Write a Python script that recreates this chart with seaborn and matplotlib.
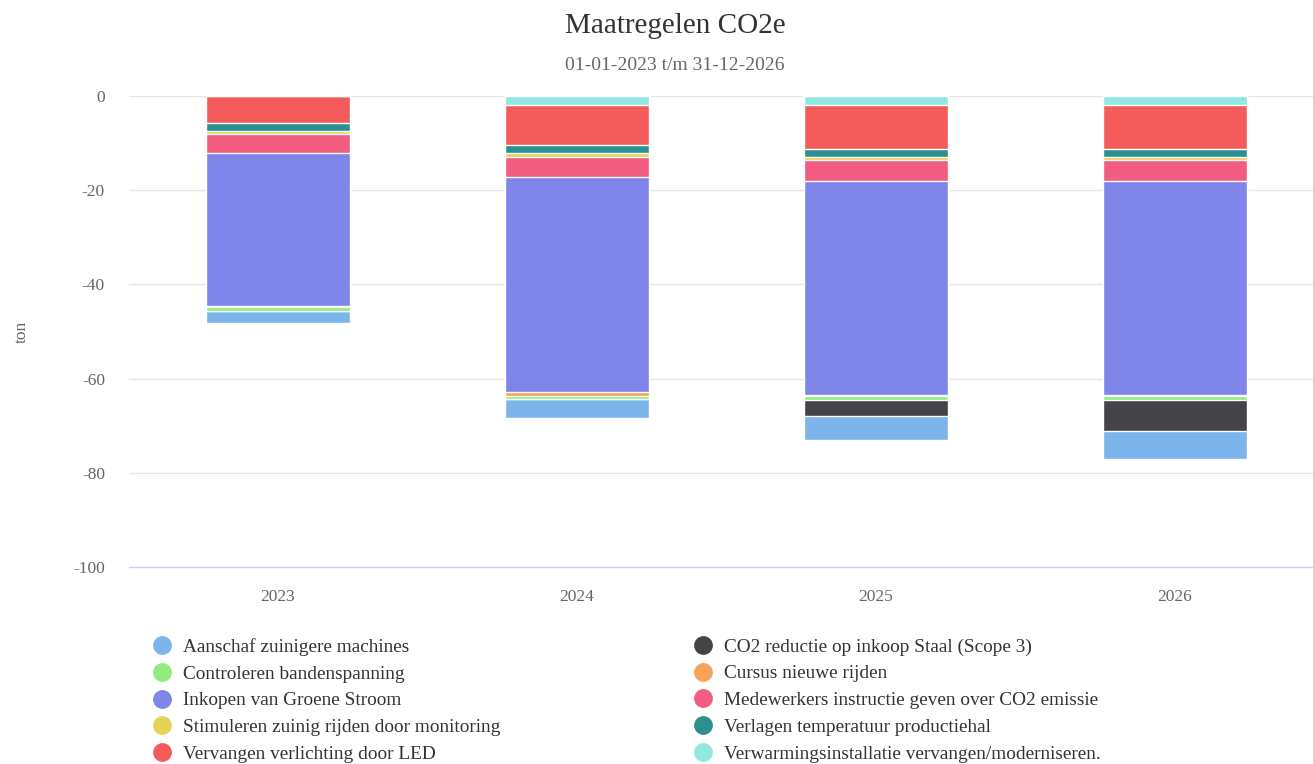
import numpy as np
import pandas as pd
import matplotlib
matplotlib.use("Agg")
import matplotlib.pyplot as plt
from matplotlib.lines import Line2D
import seaborn as sns

years = ["2023", "2024", "2025", "2026"]

# values per measure (ton CO2e)
aanschaf_machines = [-2.5, -4.0, -5.0, -6.0]
staal_scope3 = [0.0, 0.0, -3.4, -6.55]
bandenspanning = [-0.8, -0.7, -0.85, -0.8]
cursus_rijden = [-0.2, -0.8, -0.25, -0.25]
groene_stroom = [-32.4, -45.5, -45.45, -45.45]
medewerkers_instructie = [-4.1, -4.4, -4.55, -4.55]
zuinig_rijden = [-0.7, -0.7, -0.65, -0.65]
temperatuur_hal = [-1.7, -1.7, -1.65, -1.65]
led_verlichting = [-5.7, -8.55, -9.25, -9.25]
verwarming = [0.0, -1.95, -1.95, -1.95]

labels = [
    "Aanschaf zuinigere machines",
    "CO2 reductie op inkoop Staal (Scope 3)",
    "Controleren bandenspanning",
    "Cursus nieuwe rijden",
    "Inkopen van Groene Stroom",
    "Medewerkers instructie geven over CO2 emissie",
    "Stimuleren zuinig rijden door monitoring",
    "Verlagen temperatuur productiehal",
    "Vervangen verlichting door LED",
    "Verwarmingsinstallatie vervangen/moderniseren.",
]
series = [aanschaf_machines, staal_scope3, bandenspanning, cursus_rijden,
          groene_stroom, medewerkers_instructie, zuinig_rijden,
          temperatuur_hal, led_verlichting, verwarming]
colors = ["#7cb5ec", "#434348", "#90ed7d", "#f7a35c", "#8085e9",
          "#f15c80", "#e4d354", "#2b908f", "#f45b5b", "#91e8e1"]

W, H = 1313, 764
fig = plt.figure(figsize=(W / 100, H / 100), dpi=100)
sns.set_style("white")
plt.rcParams["font.family"] = ["Liberation Serif", "DejaVu Serif"]
plt.rcParams["axes.unicode_minus"] = False

ax = fig.add_axes([128.5 / W, 197 / H, 1196 / W, 471 / H])

# stack from 0 downwards: last series sits next to the axis
df = pd.DataFrame({lab: vals for lab, vals in zip(labels, series)}, index=years)
stack_order = labels[::-1]
cum = df[stack_order].cumsum(axis=1)
for lab in stack_order[::-1]:
    c = colors[labels.index(lab)]
    sns.barplot(x=years, y=cum[lab].values, color=c, saturation=1,
                width=0.48, edgecolor="white", linewidth=1, ax=ax, zorder=3)

ax.set_ylim(-100, 0)
ax.set_xlim(-0.5, 3.5)
ax.set_yticks(np.arange(-100, 1, 20))
ax.yaxis.grid(True, color="#e6e6e6", linewidth=1, zorder=0)
ax.set_axisbelow(True)
for s in ["top", "right", "left"]:
    ax.spines[s].set_visible(False)
ax.spines["bottom"].set_color("#ccd6eb")
ax.spines["bottom"].set_linewidth(1)
ax.spines["bottom"].set_zorder(4)
ax.tick_params(axis="both", length=0, labelsize=12.5, colors="#666666")
ax.tick_params(axis="x", pad=16)
ax.tick_params(axis="y", pad=17)
ax.set_xlabel("")
ax.set_ylabel("")
fig.text(22 / W, 1 - 332 / H, "ton", rotation=90, ha="center", va="center",
         fontsize=12.5, color="#666666")

fig.text(675 / W, 1 - 26 / H, "Maatregelen CO2e", ha="center", va="center",
         fontsize=21, color="#333333")
fig.text(675 / W, 1 - 66 / H, "01-01-2023 t/m 31-12-2026", ha="center",
         va="center", fontsize=14, color="#666666")

handles = [Line2D([], [], marker="o", linestyle="none", markersize=12.5,
                  markerfacecolor=c, markeredgecolor=c) for c in colors]
fs = 13.9
common = dict(loc="upper left", frameon=False, fontsize=fs, handlelength=1.0,
              handletextpad=0.6, borderpad=0, borderaxespad=0,
              labelspacing=0.48, labelcolor="#333333")
fig.legend(handles[0::2], labels[0::2], bbox_to_anchor=(152.3 / W, 1 - 638 / H), **common)
fig.legend(handles[1::2], labels[1::2], bbox_to_anchor=(693.3 / W, 1 - 638 / H), **common)

fig.savefig("out.png", dpi=100)
